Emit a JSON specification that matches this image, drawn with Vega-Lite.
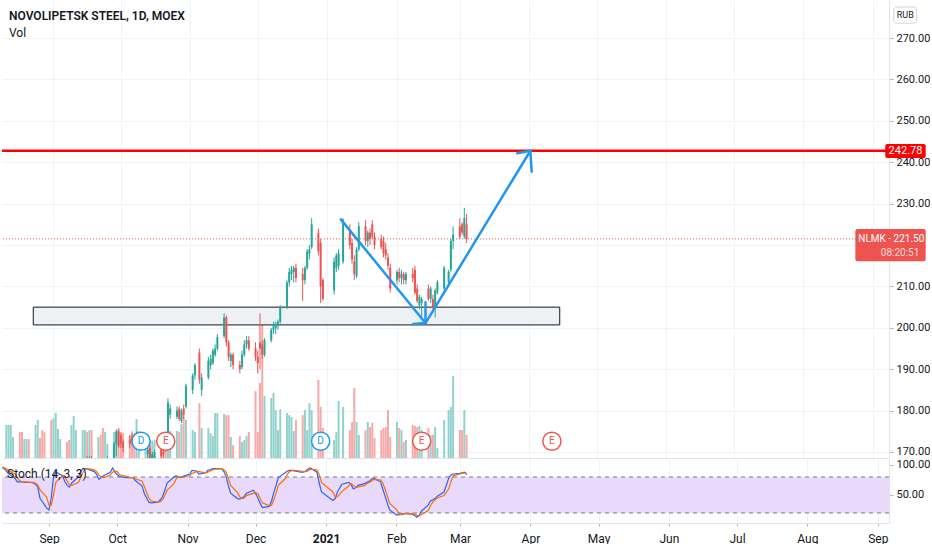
{
  "$schema": "https://vega.github.io/schema/vega-lite/v6.json",
  "padding": 0,
  "background": "white",
  "spacing": 0,
  "config": {
    "view": {"stroke": null},
    "font": "Roboto",
    "axis": {"labelFont": "Roboto", "labelColor": "#131722", "labelFontSize": 11}
  },
  "datasets": {
    "one": [{}],
    "px": [
      {"date": "2020-08-11", "open": 150, "high": 152, "low": 149.5, "close": 151.5, "volume": 11, "k": 97, "d": 95},
      {"date": "2020-08-12", "open": 151.5, "high": 154, "low": 151, "close": 153.5, "volume": 11, "k": 95, "d": 96},
      {"date": "2020-08-13", "open": 153.5, "high": 156, "low": 153, "close": 155.5, "volume": 11, "k": 91, "d": 94},
      {"date": "2020-08-14", "open": 155.5, "high": 157, "low": 154.5, "close": 156.5, "volume": 7, "k": 86, "d": 91},
      {"date": "2020-08-17", "open": 156.5, "high": 157, "low": 154, "close": 154.5, "volume": 8.7, "k": 78, "d": 85},
      {"date": "2020-08-18", "open": 154.5, "high": 155, "low": 152, "close": 153, "volume": 8.7, "k": 72, "d": 79},
      {"date": "2020-08-19", "open": 153, "high": 155.5, "low": 152.5, "close": 155, "volume": 6.3, "k": 72, "d": 74},
      {"date": "2020-08-20", "open": 155, "high": 156.5, "low": 154, "close": 156, "volume": 6.3, "k": 72, "d": 72},
      {"date": "2020-08-21", "open": 156, "high": 156.5, "low": 153.5, "close": 154, "volume": 6.3, "k": 71, "d": 72},
      {"date": "2020-08-24", "open": 154, "high": 157, "low": 153.5, "close": 156.5, "volume": 11, "k": 71, "d": 71},
      {"date": "2020-08-25", "open": 156.5, "high": 159, "low": 156, "close": 158.5, "volume": 12.7, "k": 70, "d": 71},
      {"date": "2020-08-26", "open": 158.5, "high": 159, "low": 156, "close": 156.5, "volume": 6.7, "k": 68, "d": 70},
      {"date": "2020-08-27", "open": 156.5, "high": 157, "low": 154, "close": 154.5, "volume": 9.3, "k": 64, "d": 67},
      {"date": "2020-08-28", "open": 154.5, "high": 155, "low": 151.5, "close": 152, "volume": 8.7, "k": 45, "d": 59},
      {"date": "2020-08-31", "open": 152, "high": 152.5, "low": 149, "close": 150, "volume": 12.7, "k": 28, "d": 46},
      {"date": "2020-09-01", "open": 150, "high": 154, "low": 149.5, "close": 153.5, "volume": 13.3, "k": 25, "d": 33},
      {"date": "2020-09-02", "open": 153.5, "high": 158, "low": 153, "close": 157.5, "volume": 15, "k": 45, "d": 33},
      {"date": "2020-09-03", "open": 157.5, "high": 160, "low": 157, "close": 159.5, "volume": 9.7, "k": 80, "d": 50},
      {"date": "2020-09-04", "open": 159.5, "high": 161, "low": 158.5, "close": 160.5, "volume": 6.3, "k": 88, "d": 71},
      {"date": "2020-09-07", "open": 160.5, "high": 161, "low": 158, "close": 158.5, "volume": 5.3, "k": 82, "d": 83},
      {"date": "2020-09-08", "open": 158.5, "high": 159, "low": 156.5, "close": 157, "volume": 6, "k": 72, "d": 81},
      {"date": "2020-09-09", "open": 157, "high": 159, "low": 156.5, "close": 158.5, "volume": 11, "k": 66, "d": 73},
      {"date": "2020-09-10", "open": 158.5, "high": 160, "low": 157.5, "close": 159.5, "volume": 14, "k": 63, "d": 67},
      {"date": "2020-09-11", "open": 159.5, "high": 162, "low": 159, "close": 161.5, "volume": 9.3, "k": 70, "d": 66},
      {"date": "2020-09-14", "open": 161.5, "high": 164, "low": 161, "close": 163.5, "volume": 9.3, "k": 80, "d": 71},
      {"date": "2020-09-15", "open": 163.5, "high": 166.5, "low": 163, "close": 166, "volume": 9.3, "k": 90, "d": 80},
      {"date": "2020-09-16", "open": 166.5, "high": 169, "low": 165, "close": 165.5, "volume": 8.7, "k": 94, "d": 88},
      {"date": "2020-09-17", "open": 165.5, "high": 169, "low": 165, "close": 168, "volume": 9.3, "k": 94, "d": 93},
      {"date": "2020-09-18", "open": 168, "high": 169, "low": 166, "close": 166.5, "volume": 9.3, "k": 93, "d": 94},
      {"date": "2020-09-21", "open": 165, "high": 167.5, "low": 164.5, "close": 167, "volume": 7, "k": 89, "d": 92},
      {"date": "2020-09-22", "open": 167, "high": 167.5, "low": 164, "close": 164.5, "volume": 7.7, "k": 84, "d": 89},
      {"date": "2020-09-23", "open": 164.5, "high": 165, "low": 162, "close": 162.5, "volume": 10, "k": 76, "d": 83},
      {"date": "2020-09-24", "open": 163, "high": 166, "low": 162.5, "close": 165.5, "volume": 8.7, "k": 79, "d": 80},
      {"date": "2020-09-25", "open": 165.5, "high": 169, "low": 165, "close": 168.5, "volume": 4.7, "k": 82, "d": 79},
      {"date": "2020-09-28", "open": 168.5, "high": 172.5, "low": 168, "close": 172, "volume": 8.7, "k": 88, "d": 83},
      {"date": "2020-09-29", "open": 172, "high": 175.5, "low": 169, "close": 175, "volume": 8.7, "k": 95, "d": 88},
      {"date": "2020-09-30", "open": 175, "high": 175.5, "low": 171, "close": 171.5, "volume": 10, "k": 88, "d": 90},
      {"date": "2020-10-01", "open": 174, "high": 174.5, "low": 171, "close": 172, "volume": 8.7, "k": 84, "d": 89},
      {"date": "2020-10-02", "open": 172.5, "high": 173, "low": 170, "close": 171, "volume": 8.3, "k": 81, "d": 84},
      {"date": "2020-10-05", "open": 173, "high": 174, "low": 171, "close": 172, "volume": 7.7, "k": 79, "d": 81},
      {"date": "2020-10-06", "open": 173.5, "high": 175, "low": 172, "close": 172.5, "volume": 8.3, "k": 79, "d": 80},
      {"date": "2020-10-07", "open": 174, "high": 174.5, "low": 171.5, "close": 172.5, "volume": 7, "k": 79, "d": 79},
      {"date": "2020-10-08", "open": 171.5, "high": 175, "low": 171, "close": 174.5, "volume": 13, "k": 79, "d": 79},
      {"date": "2020-10-09", "open": 173, "high": 175, "low": 172.5, "close": 174, "volume": 4.7, "k": 74, "d": 77},
      {"date": "2020-10-12", "open": 171, "high": 173, "low": 170.5, "close": 172.5, "volume": 4.7, "k": 65, "d": 73},
      {"date": "2020-10-13", "open": 169.5, "high": 171, "low": 168.5, "close": 170.5, "volume": 4.7, "k": 52, "d": 64},
      {"date": "2020-10-14", "open": 171, "high": 171.5, "low": 168, "close": 168.5, "volume": 6, "k": 45, "d": 54},
      {"date": "2020-10-15", "open": 167.5, "high": 170, "low": 167, "close": 169.5, "volume": 5.7, "k": 38, "d": 45},
      {"date": "2020-10-16", "open": 168, "high": 170.5, "low": 167.5, "close": 170, "volume": 6, "k": 37, "d": 40},
      {"date": "2020-10-19", "open": 170.5, "high": 171, "low": 168.5, "close": 169, "volume": 6, "k": 38, "d": 38},
      {"date": "2020-10-20", "open": 170, "high": 171, "low": 168.5, "close": 169.5, "volume": 6, "k": 42, "d": 39},
      {"date": "2020-10-21", "open": 172, "high": 172.5, "low": 170, "close": 171, "volume": 6.7, "k": 47, "d": 42},
      {"date": "2020-10-22", "open": 173, "high": 183, "low": 172.5, "close": 182, "volume": 15, "k": 58, "d": 49},
      {"date": "2020-10-23", "open": 179, "high": 181.5, "low": 178, "close": 180.5, "volume": 9, "k": 70, "d": 58},
      {"date": "2020-10-26", "open": 178.5, "high": 181, "low": 178, "close": 180, "volume": 9, "k": 80, "d": 69},
      {"date": "2020-10-27", "open": 180.5, "high": 181, "low": 177.5, "close": 178, "volume": 8.7, "k": 82, "d": 77},
      {"date": "2020-10-28", "open": 177.5, "high": 180.5, "low": 177, "close": 180, "volume": 11.3, "k": 80, "d": 81},
      {"date": "2020-10-29", "open": 180.5, "high": 181.5, "low": 178, "close": 179, "volume": 13.7, "k": 79, "d": 80},
      {"date": "2020-10-30", "open": 181, "high": 186.5, "low": 180.5, "close": 186, "volume": 12.7, "k": 81, "d": 80},
      {"date": "2020-11-02", "open": 185, "high": 189, "low": 184, "close": 188.5, "volume": 9.3, "k": 85, "d": 82},
      {"date": "2020-11-03", "open": 188.5, "high": 191.5, "low": 187.5, "close": 191, "volume": 8.7, "k": 91, "d": 86},
      {"date": "2020-11-05", "open": 194, "high": 195, "low": 186.5, "close": 187.5, "volume": 18.3, "k": 90, "d": 89},
      {"date": "2020-11-06", "open": 185, "high": 189, "low": 183.5, "close": 188, "volume": 10, "k": 85, "d": 89},
      {"date": "2020-11-09", "open": 188, "high": 193, "low": 187.5, "close": 192, "volume": 10, "k": 87, "d": 87},
      {"date": "2020-11-10", "open": 191, "high": 193.5, "low": 190, "close": 192.5, "volume": 8.3, "k": 91, "d": 88},
      {"date": "2020-11-11", "open": 191.5, "high": 195, "low": 191, "close": 194.5, "volume": 7.3, "k": 92, "d": 90},
      {"date": "2020-11-12", "open": 193.5, "high": 196, "low": 193, "close": 195, "volume": 15, "k": 94, "d": 92},
      {"date": "2020-11-13", "open": 195, "high": 198.5, "low": 194.5, "close": 197.8, "volume": 15, "k": 94, "d": 93},
      {"date": "2020-11-16", "open": 198, "high": 203.5, "low": 197.5, "close": 202.5, "volume": 14.7, "k": 94, "d": 94},
      {"date": "2020-11-17", "open": 202.5, "high": 203, "low": 195.5, "close": 196.5, "volume": 14.3, "k": 89, "d": 92},
      {"date": "2020-11-18", "open": 196.5, "high": 197, "low": 192, "close": 193, "volume": 14.3, "k": 81, "d": 88},
      {"date": "2020-11-19", "open": 192, "high": 194, "low": 190.5, "close": 193.5, "volume": 7, "k": 65, "d": 78},
      {"date": "2020-11-20", "open": 193.5, "high": 194, "low": 190, "close": 191, "volume": 4.3, "k": 53, "d": 66},
      {"date": "2020-11-23", "open": 191, "high": 192, "low": 189, "close": 190, "volume": 7.3, "k": 44, "d": 54},
      {"date": "2020-11-24", "open": 190.5, "high": 194.5, "low": 190, "close": 193.5, "volume": 5.3, "k": 43, "d": 47},
      {"date": "2020-11-25", "open": 193.5, "high": 197, "low": 193, "close": 196, "volume": 6, "k": 45, "d": 44},
      {"date": "2020-11-26", "open": 196, "high": 198, "low": 195, "close": 197, "volume": 7.3, "k": 48, "d": 45},
      {"date": "2020-11-27", "open": 197, "high": 198, "low": 194.5, "close": 195, "volume": 8.7, "k": 53, "d": 49},
      {"date": "2020-11-30", "open": 195, "high": 196.5, "low": 192, "close": 193, "volume": 22.3, "k": 58, "d": 53},
      {"date": "2020-12-01", "open": 193, "high": 194.5, "low": 189, "close": 191.5, "volume": 8.7, "k": 52, "d": 54},
      {"date": "2020-12-02", "open": 196.5, "high": 203.5, "low": 190, "close": 195, "volume": 25, "k": 45, "d": 52},
      {"date": "2020-12-03", "open": 196, "high": 197, "low": 192.5, "close": 193.5, "volume": 48.3, "k": 36, "d": 44},
      {"date": "2020-12-04", "open": 193.5, "high": 197.5, "low": 193, "close": 197, "volume": 20.7, "k": 29, "d": 37},
      {"date": "2020-12-07", "open": 197, "high": 200, "low": 196.5, "close": 199.5, "volume": 20, "k": 31, "d": 32},
      {"date": "2020-12-08", "open": 199.5, "high": 201.5, "low": 198.5, "close": 200.5, "volume": 21.7, "k": 40, "d": 33},
      {"date": "2020-12-09", "open": 200, "high": 201.5, "low": 198.5, "close": 201, "volume": 16, "k": 54, "d": 42},
      {"date": "2020-12-10", "open": 200.5, "high": 202, "low": 199.5, "close": 201.5, "volume": 9.3, "k": 66, "d": 53},
      {"date": "2020-12-11", "open": 201.5, "high": 205.5, "low": 201, "close": 205, "volume": 16.3, "k": 79, "d": 66},
      {"date": "2020-12-14", "open": 205, "high": 211.5, "low": 204.5, "close": 211, "volume": 15, "k": 87, "d": 77},
      {"date": "2020-12-15", "open": 211, "high": 214.5, "low": 210, "close": 213.5, "volume": 14.3, "k": 90, "d": 85},
      {"date": "2020-12-16", "open": 213, "high": 215, "low": 211.5, "close": 214, "volume": 13.7, "k": 91, "d": 89},
      {"date": "2020-12-17", "open": 213.5, "high": 215, "low": 211, "close": 214.5, "volume": 9, "k": 91, "d": 91},
      {"date": "2020-12-18", "open": 214.5, "high": 215.5, "low": 211, "close": 212, "volume": 12.7, "k": 90, "d": 91},
      {"date": "2020-12-21", "open": 213, "high": 214.5, "low": 206.5, "close": 211.5, "volume": 14.3, "k": 88, "d": 90},
      {"date": "2020-12-22", "open": 211.5, "high": 215, "low": 210.5, "close": 214.5, "volume": 16, "k": 88, "d": 89},
      {"date": "2020-12-23", "open": 214.5, "high": 219, "low": 214, "close": 218.5, "volume": 9.3, "k": 90, "d": 89},
      {"date": "2020-12-24", "open": 218, "high": 220, "low": 216.5, "close": 219, "volume": 18.3, "k": 93, "d": 90},
      {"date": "2020-12-25", "open": 219.5, "high": 226.5, "low": 219, "close": 225, "volume": 16, "k": 95, "d": 93},
      {"date": "2020-12-28", "open": 223, "high": 224, "low": 217.5, "close": 218.5, "volume": 26, "k": 88, "d": 92},
      {"date": "2020-12-29", "open": 220.5, "high": 221.5, "low": 206, "close": 210, "volume": 17, "k": 70, "d": 84},
      {"date": "2020-12-30", "open": 211.5, "high": 212, "low": 206.5, "close": 207, "volume": 10, "k": 55, "d": 71},
      {"date": "2021-01-04", "open": 209, "high": 217, "low": 208, "close": 216, "volume": 6, "k": 41, "d": 55},
      {"date": "2021-01-05", "open": 214.5, "high": 218, "low": 213.5, "close": 217.5, "volume": 8.7, "k": 44, "d": 47},
      {"date": "2021-01-06", "open": 215, "high": 219, "low": 214, "close": 218, "volume": 19, "k": 55, "d": 47},
      {"date": "2021-01-08", "open": 216, "high": 226.5, "low": 215.5, "close": 226, "volume": 17, "k": 68, "d": 56},
      {"date": "2021-01-11", "open": 223.5, "high": 225, "low": 219, "close": 220, "volume": 9.3, "k": 71, "d": 65},
      {"date": "2021-01-12", "open": 220.5, "high": 221.5, "low": 215.5, "close": 216.5, "volume": 12, "k": 68, "d": 69},
      {"date": "2021-01-13", "open": 216, "high": 217.5, "low": 211.5, "close": 213, "volume": 23.3, "k": 60, "d": 66},
      {"date": "2021-01-14", "open": 212.5, "high": 219.5, "low": 212, "close": 219, "volume": 12, "k": 62, "d": 63},
      {"date": "2021-01-15", "open": 219, "high": 225.5, "low": 218.5, "close": 224.5, "volume": 7.7, "k": 66, "d": 63},
      {"date": "2021-01-18", "open": 224.5, "high": 226, "low": 220, "close": 221, "volume": 9.3, "k": 69, "d": 66},
      {"date": "2021-01-19", "open": 221, "high": 223.5, "low": 219.5, "close": 223, "volume": 12, "k": 71, "d": 69},
      {"date": "2021-01-20", "open": 223, "high": 224, "low": 220, "close": 221.5, "volume": 10.3, "k": 73, "d": 71},
      {"date": "2021-01-21", "open": 225, "high": 226, "low": 221.5, "close": 222, "volume": 11.7, "k": 76, "d": 73},
      {"date": "2021-01-22", "open": 222, "high": 223, "low": 219, "close": 220, "volume": 6.7, "k": 78, "d": 76},
      {"date": "2021-01-25", "open": 221.5, "high": 222.5, "low": 219, "close": 219.5, "volume": 9.3, "k": 72, "d": 75},
      {"date": "2021-01-26", "open": 221, "high": 222, "low": 217, "close": 218, "volume": 10, "k": 60, "d": 70},
      {"date": "2021-01-27", "open": 219, "high": 220.5, "low": 216.5, "close": 217.5, "volume": 10.3, "k": 48, "d": 60},
      {"date": "2021-01-28", "open": 217, "high": 218, "low": 214, "close": 215, "volume": 16, "k": 36, "d": 48},
      {"date": "2021-01-29", "open": 214.5, "high": 215.5, "low": 208.5, "close": 209.5, "volume": 7, "k": 25, "d": 36},
      {"date": "2021-02-01", "open": 211.5, "high": 214, "low": 210.5, "close": 213.5, "volume": 12, "k": 17, "d": 26},
      {"date": "2021-02-02", "open": 213.5, "high": 214.5, "low": 211, "close": 212, "volume": 10, "k": 17, "d": 20},
      {"date": "2021-02-03", "open": 212, "high": 214, "low": 210.5, "close": 213, "volume": 9.3, "k": 18, "d": 17},
      {"date": "2021-02-04", "open": 213, "high": 213.5, "low": 210.5, "close": 211.5, "volume": 5.3, "k": 19, "d": 18},
      {"date": "2021-02-05", "open": 211.5, "high": 213.5, "low": 210.5, "close": 213, "volume": 6, "k": 19, "d": 19},
      {"date": "2021-02-08", "open": 213, "high": 214.5, "low": 211, "close": 212, "volume": 11, "k": 18, "d": 19},
      {"date": "2021-02-09", "open": 214, "high": 215, "low": 208, "close": 208.5, "volume": 10.7, "k": 16, "d": 18},
      {"date": "2021-02-10", "open": 209.5, "high": 210.5, "low": 206, "close": 206.5, "volume": 10.3, "k": 13, "d": 16},
      {"date": "2021-02-11", "open": 205.5, "high": 208, "low": 204.5, "close": 207.5, "volume": 10.7, "k": 16, "d": 15},
      {"date": "2021-02-12", "open": 206, "high": 207.5, "low": 202.5, "close": 207, "volume": 9.3, "k": 23, "d": 17},
      {"date": "2021-02-15", "open": 209.5, "high": 210.5, "low": 206.5, "close": 207, "volume": 10, "k": 33, "d": 24},
      {"date": "2021-02-16", "open": 207, "high": 210, "low": 206, "close": 209.5, "volume": 7.7, "k": 40, "d": 32},
      {"date": "2021-02-17", "open": 207, "high": 208, "low": 204.5, "close": 205, "volume": 7.7, "k": 42, "d": 38},
      {"date": "2021-02-18", "open": 205, "high": 209.5, "low": 202.5, "close": 209, "volume": 10.3, "k": 44, "d": 42},
      {"date": "2021-02-19", "open": 208.5, "high": 211.5, "low": 208, "close": 211, "volume": 3.3, "k": 48, "d": 45},
      {"date": "2021-02-22", "open": 209.5, "high": 215, "low": 209, "close": 214.5, "volume": 12.7, "k": 55, "d": 49},
      {"date": "2021-02-24", "open": 211, "high": 214, "low": 210.5, "close": 213.5, "volume": 16, "k": 78, "d": 60},
      {"date": "2021-02-25", "open": 214, "high": 221.5, "low": 213.5, "close": 221, "volume": 17, "k": 83, "d": 72},
      {"date": "2021-02-26", "open": 221, "high": 224.5, "low": 219, "close": 222.5, "volume": 27.3, "k": 85, "d": 82},
      {"date": "2021-03-01", "open": 224.5, "high": 226.5, "low": 221.5, "close": 222, "volume": 9.3, "k": 86, "d": 85},
      {"date": "2021-03-02", "open": 225, "high": 225.5, "low": 222.5, "close": 223, "volume": 9.3, "k": 87, "d": 86},
      {"date": "2021-03-03", "open": 222, "high": 229, "low": 221.5, "close": 226.5, "volume": 16, "k": 88, "d": 87},
      {"date": "2021-03-04", "open": 225, "high": 227.5, "low": 220.5, "close": 221.5, "volume": 7.7, "k": 84, "d": 86}
    ],
    "events": [
      {"date": "2020-10-10", "kind": "D"},
      {"date": "2020-10-21", "kind": "E"},
      {"date": "2020-12-29", "kind": "D"},
      {"date": "2021-02-12", "kind": "E"},
      {"date": "2021-04-11", "kind": "E"}
    ],
    "arrows": [
      {"path": "down", "seq": 1, "date": "2021-01-07T00:00", "price": 226.2},
      {"path": "down", "seq": 2, "date": "2021-02-13T17:00", "price": 201.15},
      {"path": "downhead", "seq": 1, "date": "2021-02-08T04:00", "price": 200.9},
      {"path": "downhead", "seq": 2, "date": "2021-02-13T17:00", "price": 201.15},
      {"path": "downhead", "seq": 3, "date": "2021-02-13T17:00", "price": 206.2},
      {"path": "up", "seq": 1, "date": "2021-02-13T17:00", "price": 201.15},
      {"path": "up", "seq": 2, "date": "2021-04-01T10:00", "price": 242.78},
      {"path": "uphead", "seq": 1, "date": "2021-03-26T13:00", "price": 242.16},
      {"path": "uphead", "seq": 2, "date": "2021-04-01T10:00", "price": 242.78},
      {"path": "uphead", "seq": 3, "date": "2021-04-02T00:00", "price": 237.7}
    ]
  },
  "vconcat": [
    {
      "width": 887,
      "height": 458,
      "title": {
        "text": "NOVOLIPETSK STEEL, 1D, MOEX",
        "subtitle": "Vol",
        "anchor": "start",
        "frame": "group",
        "offset": -40,
        "dx": 7,
        "font": "Roboto",
        "fontSize": 12,
        "fontWeight": 600,
        "color": "#131722",
        "subtitleFont": "Roboto",
        "subtitleFontSize": 12,
        "subtitleColor": "#131722",
        "subtitlePadding": 5
      },
      "layer": [
        {
          "data": {"name": "px"},
          "mark": {"type": "bar", "size": 2, "clip": true},
          "encoding": {
            "x": {
              "field": "date",
              "type": "temporal",
              "scale": {"domain": [{"year": 2020, "month": 8, "date": 11, "hours": 7, "minutes": 12}, {"year": 2021, "month": 9, "date": 5, "hours": 22, "minutes": 18}]},
              "axis": {"title": null, "labels": false, "ticks": false, "domain": true, "domainColor": "#e0e3eb", "grid": true, "gridColor": "#f0f3fa", "tickCount": {"interval": "month", "step": 1}}
            },
            "y": {"field": "volume", "type": "quantitative", "scale": {"domain": [0, 152.7], "nice": false}, "axis": null},
            "color": {"condition": {"test": "datum.close >= datum.open", "value": "#93d2cc"}, "value": "#f7a9a7"}
          }
        },
        {
          "layer": [
            {
              "data": {"name": "one"},
              "mark": {"type": "rect", "fill": "#eef1f4", "stroke": "#131722", "strokeWidth": 1},
              "encoding": {
                "x": {"datum": {"year": 2020, "month": 8, "date": 23, "hours": 0}, "type": "temporal"},
                "x2": {"datum": {"year": 2021, "month": 4, "date": 14, "hours": 12}},
                "y": {
                  "datum": 205.0,
                  "type": "quantitative",
                  "scale": {"domain": [168.55, 279.2], "nice": false, "zero": false},
                  "axis": {"orient": "right", "title": null, "values": [170, 180, 190, 200, 210, 220, 230, 240, 250, 260, 270], "labelExpr": "datum.value == 220 ? '' : format(datum.value, '.2f')", "grid": true, "gridColor": "#f0f3fa", "domain": true, "domainColor": "#e0e3eb", "tickColor": "#b2b5be", "tickSize": 4, "labelPadding": 3}
                },
                "y2": {"datum": 200.7}
              }
            },
            {
              "data": {"name": "one"},
              "mark": {"type": "rule", "color": "#ef5350", "strokeWidth": 1, "strokeDash": [1, 2]},
              "encoding": {"y": {"datum": 221.5, "type": "quantitative"}}
            },
            {
              "data": {"name": "px"},
              "mark": {"type": "rule", "strokeWidth": 1, "clip": true},
              "encoding": {
                "x": {"field": "date", "type": "temporal"},
                "y": {"field": "low", "type": "quantitative"},
                "y2": {"field": "high"},
                "color": {"condition": {"test": "datum.close >= datum.open", "value": "#26a69a"}, "value": "#ef5350"}
              }
            },
            {
              "data": {"name": "px"},
              "mark": {"type": "bar", "size": 2, "clip": true},
              "encoding": {
                "x": {"field": "date", "type": "temporal"},
                "y": {"field": "open", "type": "quantitative"},
                "y2": {"field": "close"},
                "color": {"condition": {"test": "datum.close >= datum.open", "value": "#26a69a"}, "value": "#ef5350"}
              }
            },
            {
              "data": {"name": "one"},
              "mark": {"type": "rule", "color": "#ff0000", "strokeWidth": 2.5},
              "encoding": {"y": {"datum": 242.78, "type": "quantitative"}}
            },
            {
              "data": {"name": "arrows"},
              "mark": {"type": "line", "color": "#2196f3", "strokeWidth": 2.5, "strokeCap": "round", "strokeJoin": "round"},
              "encoding": {
                "x": {"field": "date", "type": "temporal"},
                "y": {"field": "price", "type": "quantitative"},
                "detail": {"field": "path"},
                "order": {"field": "seq"}
              }
            },
            {
              "data": {"name": "events"},
              "mark": {"type": "point", "shape": "circle", "size": 330, "filled": false, "fill": "white", "fillOpacity": 1, "strokeWidth": 1.5, "opacity": 1},
              "encoding": {
                "x": {"field": "date", "type": "temporal"},
                "y": {"datum": 172.6, "type": "quantitative"},
                "stroke": {"condition": {"test": "datum.kind == 'D'", "value": "#2196f3"}, "value": "#ef5350"}
              }
            },
            {
              "data": {"name": "events"},
              "mark": {"type": "text", "fontSize": 10, "baseline": "middle", "align": "center"},
              "encoding": {
                "x": {"field": "date", "type": "temporal"},
                "y": {"datum": 172.6, "type": "quantitative"},
                "text": {"field": "kind"},
                "color": {"condition": {"test": "datum.kind == 'D'", "value": "#2196f3"}, "value": "#ef5350"}
              }
            },
            {
              "data": {"name": "one"},
              "mark": {"type": "rect", "fill": "#ff0000", "cornerRadius": 2},
              "encoding": {
                "x": {"datum": {"year": 2021, "month": 9, "date": 6, "hours": 12}, "type": "temporal"},
                "x2": {"datum": {"year": 2021, "month": 9, "date": 24, "hours": 12}},
                "y": {"datum": 244.4, "type": "quantitative"},
                "y2": {"datum": 241.0}
              }
            },
            {
              "data": {"name": "one"},
              "mark": {"type": "text", "text": "242.78", "color": "white", "fontSize": 11, "align": "center", "baseline": "middle"},
              "encoding": {
                "x": {"datum": {"year": 2021, "month": 9, "date": 15, "hours": 12}, "type": "temporal"},
                "y": {"datum": 242.7, "type": "quantitative"}
              }
            },
            {
              "data": {"name": "one"},
              "mark": {"type": "rect", "fill": "#ef5350", "cornerRadius": 2},
              "encoding": {
                "x": {"datum": {"year": 2021, "month": 8, "date": 24, "hours": 4}, "type": "temporal"},
                "x2": {"datum": {"year": 2021, "month": 9, "date": 24, "hours": 12}},
                "y": {"datum": 223.9, "type": "quantitative"},
                "y2": {"datum": 216.1}
              }
            },
            {
              "data": {"name": "one"},
              "mark": {"type": "text", "text": "NLMK - 221.50", "color": "white", "fontSize": 10, "align": "left", "baseline": "middle"},
              "encoding": {
                "x": {"datum": {"year": 2021, "month": 8, "date": 25, "hours": 12}, "type": "temporal"},
                "y": {"datum": 221.4, "type": "quantitative"}
              }
            },
            {
              "data": {"name": "one"},
              "mark": {"type": "text", "text": "08:20:51", "color": "#fcdcdc", "fontSize": 10, "align": "left", "baseline": "middle"},
              "encoding": {
                "x": {"datum": {"year": 2021, "month": 9, "date": 4, "hours": 12}, "type": "temporal"},
                "y": {"datum": 218.1, "type": "quantitative"}
              }
            },
            {
              "data": {"name": "one"},
              "mark": {"type": "rect", "fill": "white", "stroke": "#d1d4dc", "strokeWidth": 1, "cornerRadius": 3},
              "encoding": {
                "x": {"datum": {"year": 2021, "month": 9, "date": 10, "hours": 7}, "type": "temporal"},
                "x2": {"datum": {"year": 2021, "month": 9, "date": 20, "hours": 12}},
                "y": {"datum": 277.5, "type": "quantitative"},
                "y2": {"datum": 273.6}
              }
            },
            {
              "data": {"name": "one"},
              "mark": {"type": "text", "text": "RUB", "color": "#131722", "fontSize": 9, "align": "center", "baseline": "middle"},
              "encoding": {
                "x": {"datum": {"year": 2021, "month": 9, "date": 15, "hours": 10}, "type": "temporal"},
                "y": {"datum": 275.6, "type": "quantitative"}
              }
            }
          ]
        }
      ],
      "resolve": {"scale": {"y": "independent"}}
    },
    {
      "width": 887,
      "height": 64,
      "title": {
        "text": "Stoch (14, 3, 3)",
        "anchor": "start",
        "frame": "group",
        "offset": -22,
        "dx": 5,
        "font": "Roboto",
        "fontSize": 12,
        "fontWeight": "normal",
        "color": "#131722"
      },
      "layer": [
        {
          "data": {"name": "one"},
          "mark": {"type": "rect", "fill": "#e9dafc"},
          "encoding": {
            "y": {
              "datum": 80,
              "type": "quantitative",
              "scale": {"domain": [3.3, 110], "nice": false, "zero": false},
              "axis": {"orient": "right", "title": null, "values": [50, 100], "format": ".2f", "grid": false, "domain": true, "domainColor": "#e0e3eb", "tickColor": "#b2b5be", "tickSize": 4, "labelPadding": 3}
            },
            "y2": {"datum": 20}
          }
        },
        {
          "data": {"name": "one"},
          "mark": {"type": "rule", "color": "#787b86", "strokeWidth": 1, "strokeDash": [4, 4]},
          "encoding": {"y": {"datum": 80, "type": "quantitative"}}
        },
        {
          "data": {"name": "one"},
          "mark": {"type": "rule", "color": "#787b86", "strokeWidth": 1, "strokeDash": [4, 4]},
          "encoding": {"y": {"datum": 20, "type": "quantitative"}}
        },
        {
          "data": {"name": "px"},
          "mark": {"type": "line", "color": "#2962ff", "strokeWidth": 1.2, "clip": true},
          "encoding": {
            "x": {
              "field": "date",
              "type": "temporal",
              "scale": {"domain": [{"year": 2020, "month": 8, "date": 11, "hours": 7, "minutes": 12}, {"year": 2021, "month": 9, "date": 5, "hours": 22, "minutes": 18}]},
              "axis": {
                "title": null,
                "grid": true,
                "gridColor": "#f0f3fa",
                "domain": true,
                "domainColor": "#e0e3eb",
                "ticks": true,
                "tickSize": 3,
                "tickColor": "#b2b5be",
                "labelPadding": 7,
                "labelFontSize": 12,
                "labelFlush": false,
                "tickCount": {"interval": "month", "step": 1},
                "labelExpr": "month(datum.value) == 0 ? timeFormat(datum.value, '%Y') : timeFormat(datum.value, '%b')",
                "labelFontWeight": {"condition": {"test": "month(datum.value) == 0", "value": "bold"}, "value": "normal"}
              }
            },
            "y": {"field": "k", "type": "quantitative"}
          }
        },
        {
          "data": {"name": "px"},
          "mark": {"type": "line", "color": "#ff6d00", "strokeWidth": 1.2, "clip": true},
          "encoding": {
            "x": {"field": "date", "type": "temporal"},
            "y": {"field": "d", "type": "quantitative"}
          }
        }
      ]
    }
  ]
}
